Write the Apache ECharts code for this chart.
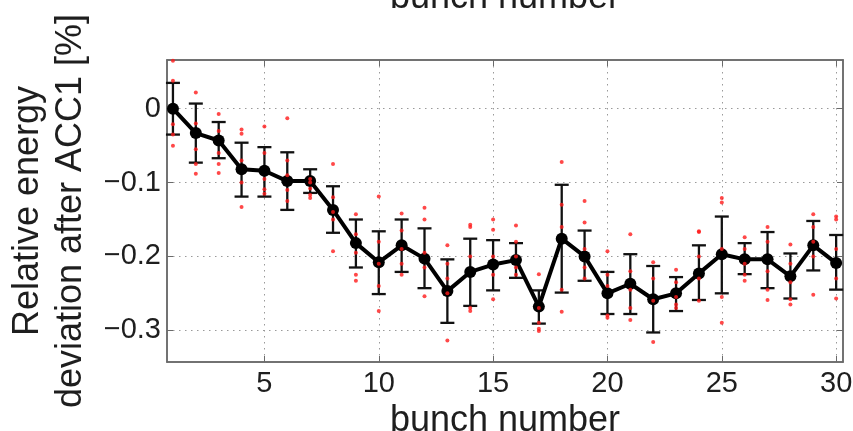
<!DOCTYPE html>
<html>
<head>
<meta charset="utf-8">
<script src="https://cdn.jsdelivr.net/npm/echarts@6/dist/echarts.min.js"></script>
<style>
  html, body { margin: 0; padding: 0; background: #fff; }
  #chart { width: 853px; height: 431px; }
</style>
</head>
<body>
<div id="chart"></div>
<script>
// bunch index along the train
const bunches = [1, 2, 3, 4, 5, 6, 7, 8, 9, 10, 11, 12, 13, 14, 15,
                 16, 17, 18, 19, 20, 21, 22, 23, 24, 25, 26, 27, 28, 29, 30];
// mean relative energy deviation [%]
const meanValues = [0.000, -0.033, -0.043, -0.082, -0.084, -0.098, -0.098, -0.137, -0.182, -0.208,
                    -0.185, -0.203, -0.247, -0.221, -0.211, -0.205, -0.268, -0.176, -0.200, -0.250,
                    -0.237, -0.258, -0.250, -0.223, -0.197, -0.204, -0.204, -0.227, -0.185, -0.209];
// error bar ends
const errHigh = [0.035, 0.007, -0.018, -0.046, -0.052, -0.059, -0.082, -0.105, -0.150, -0.166,
                 -0.150, -0.162, -0.204, -0.176, -0.178, -0.182, -0.246, -0.103, -0.165, -0.221,
                 -0.197, -0.213, -0.228, -0.185, -0.146, -0.182, -0.167, -0.196, -0.152, -0.171];
const errLow = [-0.035, -0.073, -0.067, -0.119, -0.119, -0.137, -0.114, -0.168, -0.215, -0.251,
                -0.221, -0.243, -0.290, -0.267, -0.246, -0.229, -0.291, -0.249, -0.233, -0.278,
                -0.278, -0.303, -0.274, -0.259, -0.250, -0.224, -0.243, -0.257, -0.219, -0.245];
// single shots (red dots), one list per bunch
const shotValues = [
  [0.065, 0.038, -0.021, -0.035, -0.050],
  [0.022, -0.020, -0.075, -0.088, -0.055],
  [-0.007, -0.030, -0.075, -0.087, -0.060],
  [-0.028, -0.034, -0.070, -0.100, -0.133],
  [-0.024, -0.060, -0.095, -0.109, -0.115],
  [-0.013, -0.070, -0.090, -0.110, -0.125],
  [-0.095, -0.100, -0.108, -0.117, -0.121],
  [-0.075, -0.120, -0.140, -0.150, -0.193],
  [-0.143, -0.170, -0.195, -0.225, -0.233],
  [-0.119, -0.180, -0.210, -0.240, -0.274],
  [-0.142, -0.165, -0.190, -0.210, -0.225],
  [-0.134, -0.150, -0.195, -0.215, -0.254],
  [-0.185, -0.210, -0.230, -0.250, -0.314],
  [-0.157, -0.160, -0.200, -0.270, -0.274],
  [-0.150, -0.164, -0.200, -0.225, -0.258],
  [-0.158, -0.180, -0.200, -0.215, -0.225],
  [-0.224, -0.270, -0.290, -0.298, -0.301],
  [-0.072, -0.130, -0.160, -0.245, -0.275],
  [-0.125, -0.154, -0.190, -0.215, -0.230],
  [-0.193, -0.225, -0.240, -0.280, -0.283],
  [-0.170, -0.220, -0.245, -0.270, -0.286],
  [-0.208, -0.230, -0.260, -0.316, -0.345],
  [-0.218, -0.235, -0.255, -0.265, -0.270],
  [-0.166, -0.167, -0.200, -0.230, -0.260],
  [-0.121, -0.127, -0.190, -0.255, -0.290],
  [-0.174, -0.190, -0.210, -0.225, -0.233],
  [-0.160, -0.180, -0.220, -0.245, -0.259],
  [-0.184, -0.210, -0.235, -0.258, -0.265],
  [-0.143, -0.160, -0.180, -0.200, -0.252],
  [-0.146, -0.150, -0.190, -0.230, -0.257]
];
// tick labels
const xTicks = [5, 10, 15, 20, 25, 30];
const yTicks = [-0.3, -0.2, -0.1, 0];

const font = 'Liberation Sans, Arial, Helvetica, sans-serif';
const textColor = '#1e1e1e';
const boxColor = '#6a6a6a';

const chart = echarts.init(document.getElementById('chart'));

const shotPoints = [];
bunches.forEach((b, i) => {
  shotValues[i].forEach(v => shotPoints.push([b, v]));
});

const errData = bunches.map((b, i) => [b, errLow[i], errHigh[i]]);

function yLabel(v) {
  if (Math.abs(v) < 1e-9) return '0';
  return (v < 0 ? '\u2212' : '') + Math.abs(v).toFixed(1);
}

const gridLine = { show: true, lineStyle: { color: '#9a9a9a', width: 1, type: [1.5, 4.5] } };

const option = {
  animation: false,
  backgroundColor: '#fff',
  // xlabel of the panel above, cut off at the top edge
  title: {
    text: 'bunch number',
    left: 505,
    textAlign: 'center',
    top: -20,
    padding: 0,
    textStyle: { fontFamily: font, fontSize: 36, fontWeight: 'normal', color: textColor }
  },
  grid: {
    left: 167, right: 10, top: 60, bottom: 69,
    outerBoundsMode: 'none',
    show: true, borderColor: boxColor, borderWidth: 1.5, backgroundColor: '#fff'
  },
  xAxis: [
    {
      type: 'value', position: 'bottom', min: 0.74, max: 30.3,
      axisLine: { show: true, onZero: false, lineStyle: { color: boxColor, width: 1.5 } },
      axisTick: { show: true, inside: true, length: 6, customValues: xTicks, lineStyle: { color: boxColor } },
      axisLabel: {
        customValues: xTicks, margin: 7,
        fontFamily: font, fontSize: 29, color: textColor
      },
      splitLine: gridLine,
      name: 'bunch number', nameLocation: 'middle', nameGap: 32,
      nameTextStyle: { fontFamily: font, fontSize: 36, color: textColor }
    },
    {
      type: 'value', position: 'top', min: 0.74, max: 30.3,
      axisLine: { show: true, onZero: false, lineStyle: { color: boxColor, width: 1.5 } },
      axisTick: { show: true, inside: true, length: 6, customValues: xTicks, lineStyle: { color: boxColor } },
      axisLabel: { show: false },
      splitLine: { show: false }
    }
  ],
  yAxis: [
    {
      type: 'value', position: 'left', min: -0.343, max: 0.066,
      axisLine: { show: true, onZero: false, lineStyle: { color: boxColor, width: 1.5 } },
      axisTick: { show: true, inside: true, length: 6, customValues: yTicks, lineStyle: { color: boxColor } },
      axisLabel: {
        customValues: yTicks, margin: 6, formatter: yLabel,
        fontFamily: font, fontSize: 29, color: textColor
      },
      splitLine: gridLine,
      name: 'Relative energy\ndeviation after ACC1 [%]',
      nameLocation: 'middle', nameRotate: 90, nameGap: 70,
      nameTextStyle: { fontFamily: font, fontSize: 36, lineHeight: 43, color: textColor }
    },
    {
      type: 'value', position: 'right', min: -0.343, max: 0.066,
      axisLine: { show: true, onZero: false, lineStyle: { color: boxColor, width: 1.5 } },
      axisTick: { show: true, inside: true, length: 6, customValues: yTicks, lineStyle: { color: boxColor } },
      axisLabel: { show: false },
      splitLine: { show: false }
    }
  ],
  series: [
    {
      name: 'error',
      type: 'custom',
      xAxisIndex: 0, yAxisIndex: 0,
      z: 3,
      data: errData,
      renderItem: function (params, api) {
        const x = api.value(0);
        const lo = api.coord([x, api.value(1)]);
        const hi = api.coord([x, api.value(2)]);
        const cap = 7;
        const style = { stroke: '#111', lineWidth: 2.3, fill: null };
        return {
          type: 'group',
          children: [
            { type: 'line', shape: { x1: lo[0], y1: lo[1], x2: hi[0], y2: hi[1] }, style: style },
            { type: 'line', shape: { x1: lo[0] - cap, y1: lo[1], x2: lo[0] + cap, y2: lo[1] }, style: style },
            { type: 'line', shape: { x1: hi[0] - cap, y1: hi[1], x2: hi[0] + cap, y2: hi[1] }, style: style }
          ]
        };
      }
    },
    {
      name: 'mean',
      type: 'line',
      z: 4,
      data: bunches.map((b, i) => [b, meanValues[i]]),
      symbol: 'circle',
      symbolSize: 12,
      itemStyle: { color: '#000' },
      lineStyle: { color: '#000', width: 4 }
    },
    {
      name: 'shots',
      type: 'scatter',
      z: 5,
      data: shotPoints,
      symbolSize: 4,
      itemStyle: { color: '#ff1a1a' }
    }
  ]
};

chart.setOption(option);
</script>
</body>
</html>
